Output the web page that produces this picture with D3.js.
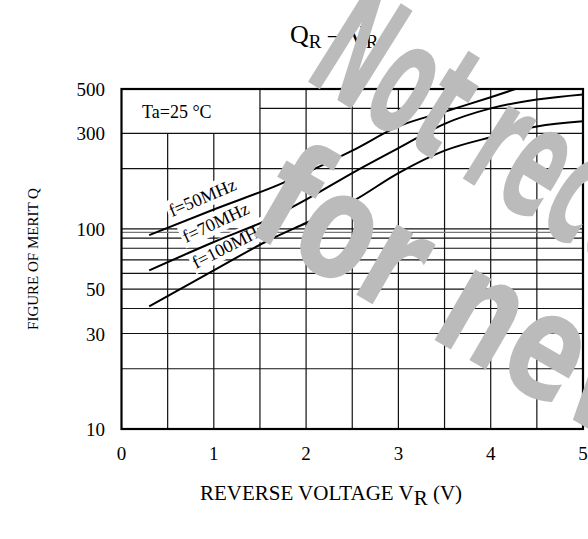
<!DOCTYPE html>
<html><head><meta charset="utf-8">
<script src="https://cdn.jsdelivr.net/npm/d3@7"></script>
<style>body{margin:0;background:#fff}svg{display:block}</style>
</head><body>
<svg id="c" width="588" height="539"></svg>
<script>
// ---- data ----
const f50X = [0.3, 1.0, 1.7, 2.5, 3.0, 3.5, 4.0, 4.3];
const f50Q = [93, 125, 166, 246, 325, 385, 455, 505];
const f70X = [0.3, 1.0, 1.6, 2.0, 2.5, 3.0, 3.5, 4.0, 4.5, 5.0];
const f70Q = [62, 86, 112, 140, 190, 253, 335, 400, 443, 470];
const f100X = [0.3, 1.0, 1.6, 2.0, 2.5, 3.0, 3.5, 4.0, 4.5, 5.0];
const f100Q = [41, 62, 88, 107, 137, 190, 246, 287, 325, 345];
const seriesNames = ["f=50MHz", "f=70MHz", "f=100MHz"];
const xTicks = [0, 1, 2, 3, 4, 5];
const yTicks = [500, 300, 100, 50, 30, 10];
const xGrid = [0.5, 1, 1.5, 2, 2.5, 3, 3.5, 4, 4.5];
const yGrid = [20, 30, 40, 50, 60, 70, 80, 90, 96, 100, 200, 300, 400];
const watermarkLines = ["Not recommended", "for new design"];

const svg = d3.select("#c");
const x = d3.scaleLinear().domain([0, 5]).range([121.5, 583]);
const y = d3.scaleLog().domain([10, 500]).range([429, 89]);
const serif = "'Liberation Serif','Times New Roman',serif";

svg.append("clipPath").attr("id", "pc").append("rect")
  .attr("x", x(0)).attr("y", y(500)).attr("width", x(5) - x(0)).attr("height", y(10) - y(500));

const grid = svg.append("g").attr("stroke", "#111").attr("stroke-width", 1.2);
grid.selectAll("line.v").data(xGrid).join("line")
  .attr("x1", d => x(d)).attr("x2", d => x(d))
  .attr("y1", y(10)).attr("y2", d => d <= 1 ? y(300) : y(500));
grid.selectAll("line.h").data(yGrid).join("line")
  .attr("x1", d => d >= 400 ? x(1.5) : x(0)).attr("x2", x(5))
  .attr("y1", d => y(d)).attr("y2", d => y(d))
  .attr("stroke", d => d === 96 ? "#777" : "#111");

// curve labels with white backing
const labelPos = [[172, 217, -23], [186, 243, -25], [196, 269, -27]];
const lg = svg.append("g");
seriesNames.forEach((n, i) => {
  const g = lg.append("g").attr("transform", `translate(${labelPos[i][0]},${labelPos[i][1]}) rotate(${labelPos[i][2]})`);
  const r = g.append("rect").attr("fill", "#fff");
  const t = g.append("text").text(n).attr("font-family", serif).attr("font-size", 18).attr("fill", "#000");
  const b = t.node().getBBox();
  r.attr("x", b.x - 2).attr("y", b.y - 1).attr("width", b.width + 4).attr("height", b.height + 2);
});

// Ta box text
svg.append("text").attr("x", 142).attr("y", 118).text("Ta=25 \u00B0C")
  .attr("font-family", serif).attr("font-size", 18);

// curves
const line = d3.line().x(d => x(d[0])).y(d => y(d[1])).curve(d3.curveMonotoneX);
const series = [d3.zip(f50X, f50Q), d3.zip(f70X, f70Q), d3.zip(f100X, f100Q)];
svg.append("g").attr("clip-path", "url(#pc)").selectAll("path").data(series).join("path")
  .attr("d", line).attr("fill", "none").attr("stroke", "#000").attr("stroke-width", 2);

// border
svg.append("rect").attr("x", x(0)).attr("y", y(500)).attr("width", x(5) - x(0)).attr("height", y(10) - y(500))
  .attr("fill", "none").attr("stroke", "#000").attr("stroke-width", 2.2);

// tick labels
svg.append("g").selectAll("text").data(yTicks).join("text")
  .attr("x", 105).attr("y", d => y(d) + 7).attr("text-anchor", "end")
  .attr("font-family", serif).attr("font-size", 19).text(d => d);
svg.append("g").selectAll("text").data(xTicks).join("text")
  .attr("x", d => x(d)).attr("y", 460).attr("text-anchor", "middle")
  .attr("font-family", serif).attr("font-size", 19).text(d => d);

// axis titles
const xt = svg.append("text").attr("x", 331).attr("y", 500).attr("text-anchor", "middle")
  .attr("font-family", serif).attr("font-size", 21);
xt.append("tspan").text("REVERSE VOLTAGE V");
xt.append("tspan").text("R").attr("dy", 5);
xt.append("tspan").text(" (V)").attr("dy", -5);

svg.append("text").attr("transform", "translate(38,259) rotate(-90)").attr("text-anchor", "middle")
  .attr("font-family", serif).attr("font-size", 15).text("FIGURE OF MERIT Q");

const tt = svg.append("text").attr("x", 290).attr("y", 43).attr("font-family", serif).attr("font-size", 26);
tt.append("tspan").text("Q");
tt.append("tspan").text("R").attr("font-size", 19).attr("dy", 5);
tt.append("tspan").text(" \u2013 V").attr("dy", -5);
tt.append("tspan").text("R").attr("font-size", 19).attr("dy", 5);

// watermark (two lines, each with its own placement)
const wmPlace = ["translate(302,78) rotate(32) scale(0.71,1.3)", "translate(244,230) rotate(30) scale(0.98,1.22)"];
svg.append("g")
  .attr("font-family", "'DejaVu Sans Condensed','DejaVu Sans',sans-serif").attr("font-weight", "bold")
  .attr("font-stretch", "condensed").attr("font-size", 122).attr("fill", "#bbbbbb")
  .selectAll("text").data(watermarkLines).join("text")
  .attr("transform", (d, i) => wmPlace[i]).text(d => d);
</script>
</body></html>
